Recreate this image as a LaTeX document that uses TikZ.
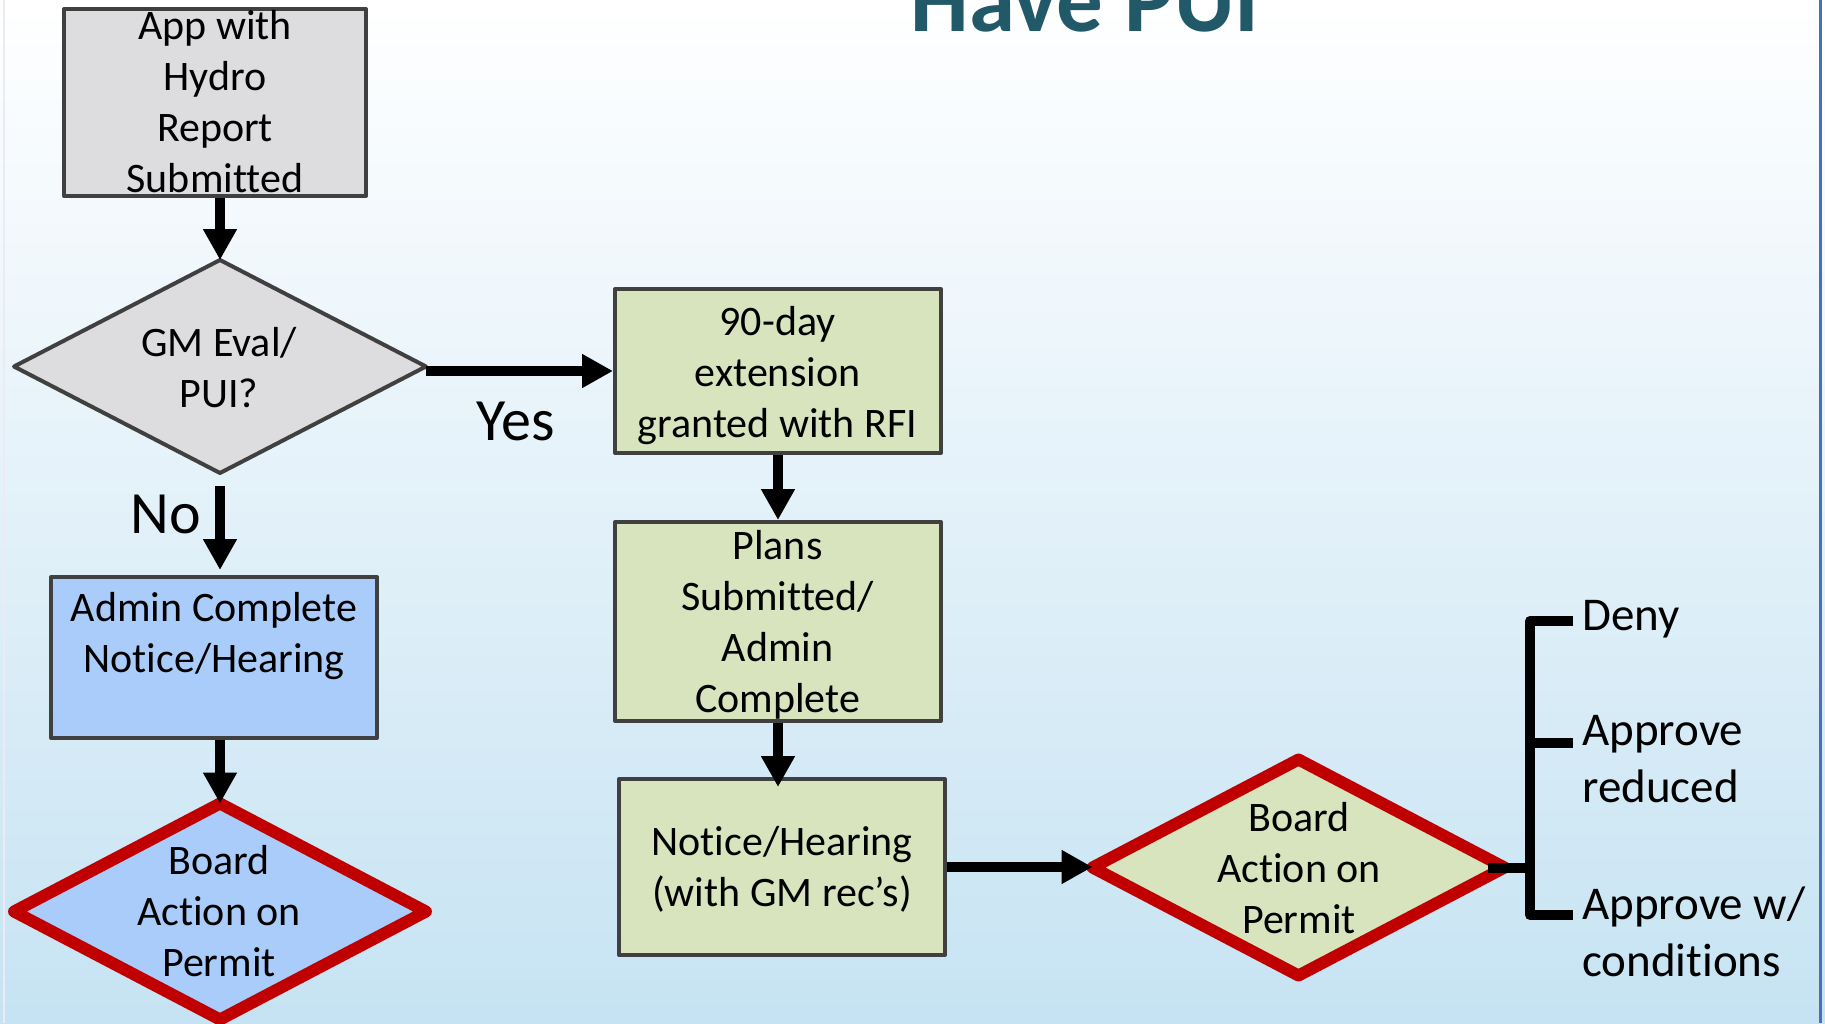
\documentclass[tikz,border=0pt]{standalone}
\usepackage{fontspec}
\setmainfont{Carlito}[Ligatures=NoCommon]
\usetikzlibrary{shapes.geometric,arrows.meta}

\definecolor{bgtop}{RGB}{255,255,255}
\definecolor{bgmid}{RGB}{238,245,250}
\definecolor{bgbot}{RGB}{198,227,243}
\definecolor{boxline}{RGB}{64,64,64}
\definecolor{grayfill}{RGB}{221,221,223}
\definecolor{bluefill}{RGB}{170,204,250}
\definecolor{greenfill}{RGB}{215,228,189}
\definecolor{redline}{RGB}{192,0,0}
\definecolor{titleblue}{RGB}{33,89,104}
\definecolor{frameblue}{RGB}{74,112,180}

\begin{document}
\begin{tikzpicture}[x=1pt,y=-1pt,
  box/.style={rectangle,draw=boxline,line width=4pt,line join=round,inner sep=0pt},
  txt/.style={font=\fontsize{42}{51}\selectfont,align=center,inner sep=0pt},
  sidetxt/.style={font=\fontsize{47}{57}\selectfont,align=left,anchor=west,inner sep=0pt},
  answer/.style={font=\fontsize{60}{66}\selectfont,anchor=base,inner sep=0pt},
  gmdia/.style={diamond,draw=boxline,fill=grayfill,line width=4pt,line join=round,
    inner sep=0pt,outer sep=0pt,minimum width=412pt,minimum height=213pt},
  board/.style={diamond,draw=redline,line width=12pt,line join=round,
    inner sep=0pt,outer sep=0pt,minimum width=412pt,minimum height=216pt},
  arr/.style={line width=10pt,-{Triangle[width=32pt,length=31pt]}},
  bracket/.style={line width=10pt,line join=round}]

\useasboundingbox (0,0) rectangle (1825,1023);
\clip (0,0) rectangle (1825,1023);

% background
\shade[top color=bgtop,middle color=bgmid,bottom color=bgbot] (0,0) rectangle (1825,1023);
\draw[line width=2pt,color={rgb,255:red,236;green,234;blue,244}] (4,0) -- (4,1023);
\draw[line width=3pt,frameblue] (1820.5,0) -- (1820.5,1023);

% title, running off the top edge of the slide
\node[font=\fontsize{93}{100}\selectfont\bfseries,text=titleblue,anchor=base,inner sep=0pt]
  (title) at (1085,31) {Have PUI};

% left column
\node[box,fill=grayfill,minimum width=302pt,minimum height=187pt] (app) at (215,102.5) {};
\node[txt] (appt) at (215,102) {App with\\Hydro\\Report\\Submitted};

\node[gmdia] (gm) at (220,366.5) {};
\node[txt] (gmt) at (219,368) {GM Eval/\\PUI?};

\node[box,fill=bluefill,minimum width=326pt,minimum height=161pt] (admin) at (214,657.5) {};
\node[txt] (admint) at (214,636) {Admin Complete\\Notice/Hearing};

\node[board,fill=bluefill] (b1) at (220,911.5) {};
\node[txt] (b1t) at (219,911) {Board\\Action on\\Permit};

% middle column
\node[box,fill=greenfill,minimum width=326pt,minimum height=164pt] (b90) at (778,371) {};
\node[txt] (b90t) at (777.5,376) {90-day\\extension\\granted with RFI};

\node[box,fill=greenfill,minimum width=326pt,minimum height=199pt] (plans) at (778,621.5) {};
\node[txt] (planst) at (777.5,624.5) {Plans\\Submitted/\\Admin\\Complete};

\node[box,fill=greenfill,minimum width=326pt,minimum height=176pt] (notice) at (782,867) {};
\node[txt] (noticet) at (782,869) {Notice/Hearing\\(with GM rec’s)};

% final decision
\node[board,fill=greenfill] (b2) at (1298.5,867.5) {};
\node[txt] (b2t) at (1299,868) {Board\\Action on\\Permit};

% answers
\node[answer] (yes) at (516,440) {Yes};
\node[answer] (no) at (166,533) {No};

% connectors
\draw[arr] (app.south -| gm.north) -- (gm.north);
\draw[arr] (b90.west -| gm.east) -- (b90.west);
\draw[arr,shorten <=13pt,shorten >=5pt] (gm.south) -- (admin.north -| gm.south);
\draw[arr] (admin.south -| b1.north) -- (b1.north);
\draw[arr] (b90.south) -- (plans.north);
\draw[arr,shorten >=-10pt] (plans.south) -- (plans.south |- notice.north);
\draw[arr] (notice.east) -- (notice.east -| b2.west);

% outcome bracket
\coordinate (bk) at (1530,867.5);
\coordinate (bkTop) at (1530,621);
\coordinate (bkMid) at (1530,743);
\coordinate (bkBot) at (1530,915);
\coordinate (tDeny) at (1573,621);
\coordinate (tRed) at (1573,743);
\coordinate (tCond) at (1573,915);
\draw[bracket,shorten <=-17pt] (b2.east) -- (bk);
\draw[bracket] (tDeny) -- (bkTop) -- (bkBot) -- (tCond);
\draw[bracket] (bkMid) -- (tRed);

\node[sidetxt] (deny) at (1582,619) {Deny};
\node[sidetxt] (reduced) at (1582,759) {Approve\\reduced};
\node[sidetxt] (cond) at (1582,932) {Approve w/\\conditions};

\end{tikzpicture}
\end{document}
